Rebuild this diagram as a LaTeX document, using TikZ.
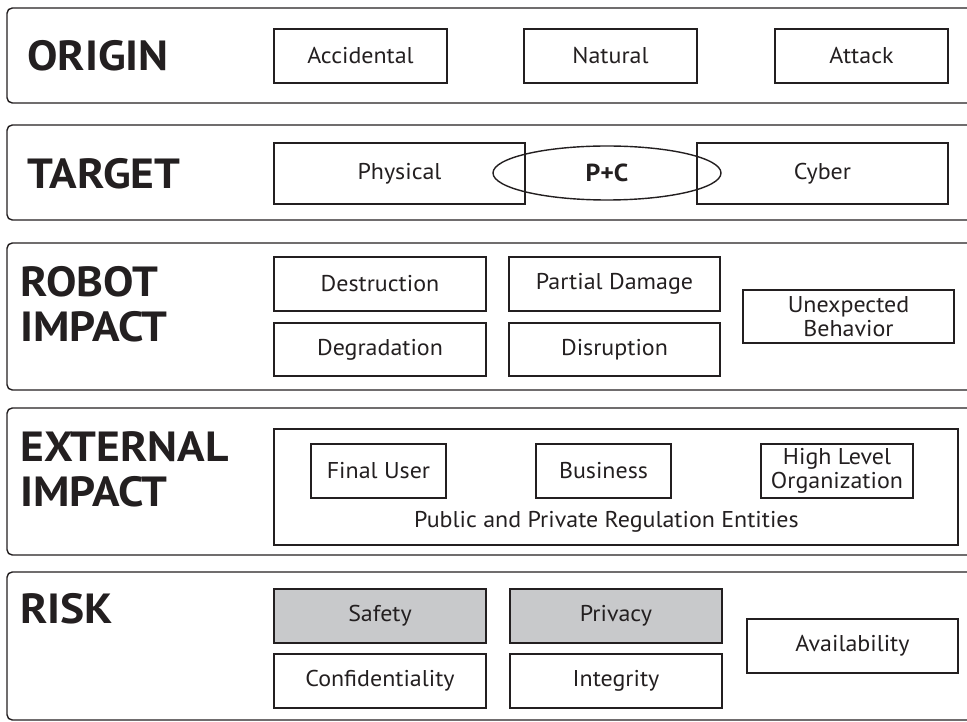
\documentclass[tikz,border=0pt]{standalone}
\usepackage{fontspec}
\setmainfont[FakeStretch=1.05]{PT Sans}
\newfontfamily\layerfont[FakeStretch=1.08]{PT Sans}
\usepackage{tikz}
\usetikzlibrary{shapes.geometric}
\definecolor{riskgray}{RGB}{200,201,203}
\definecolor{inkline}{RGB}{35,31,32}

\begin{document}
\begin{tikzpicture}[x=0.02cm,y=-0.02cm,
    panel/.style={draw=inkline,line width=0.8pt,rounded corners=3pt},
    boxsize/.style 2 args={minimum width=#1*0.02cm,minimum height=#2*0.02cm},
    item/.style={draw=inkline,line width=0.8pt,inner sep=0pt,align=center,
        text=inkline,font=\fontsize{13}{14}\selectfont},
    shaded/.style={item,fill=riskgray},
    layer/.style={anchor=west,align=left,inner sep=0pt,text=inkline,
        font=\layerfont\fontsize{24}{25.5}\selectfont\bfseries},
    ]
\useasboundingbox (0,0) rectangle (967,722);
\clip (0,0) rectangle (967,722);

\draw[panel] (7,8) rectangle (1000,103);
\draw[panel] (7,125) rectangle (1000,220);
\draw[panel] (7,243) rectangle (1000,390);
\draw[panel] (7,408) rectangle (1000,555);
\draw[panel] (7,572) rectangle (1000,720);

\node[layer] (origin) at (27,56) {ORIGIN};
\node[layer] (target) at (27,174) {TARGET};
\node[layer] (robot) at (20,304) {ROBOT\\IMPACT};
\node[layer] (external) at (20,469) {EXTERNAL\\IMPACT};
\node[layer] (risk) at (20,609) {RISK};

\node[item,boxsize={173}{54}] (accidental) at (360.5,56) {Accidental};
\node[item,boxsize={173}{54}] (natural) at (610.5,56) {Natural};
\node[item,boxsize={173}{54}] (attack) at (861.5,56) {Attack};

\node[item,boxsize={251}{61}] (physical) at (399.5,173.5) {Physical};
\node[item,boxsize={251}{61}] (cyber) at (822.5,173.5) {Cyber};
\node[ellipse,draw=inkline,line width=0.8pt,inner sep=0pt,text=inkline,
    boxsize={228}{54},font=\fontsize{14}{15}\selectfont\bfseries] (pc) at (607,173) {P+C};

\node[item,boxsize={212}{54}] (destruction) at (380,284) {Destruction};
\node[item,boxsize={212}{53}] (degradation) at (380,349.5) {Degradation};
\node[item,boxsize={211}{54}] (partial) at (614.5,284) {Partial Damage};
\node[item,boxsize={211}{53}] (disruption) at (614.5,349.5) {Disruption};
\node[item,boxsize={211}{53}] (unexpected) at (848.5,316.5) {Unexpected\\Behavior};

\node[item,boxsize={684}{116}] (regulation) at (616,487) {};
\node[item,boxsize={135}{54}] (user) at (378.5,471) {Final User};
\node[item,boxsize={135}{54}] (business) at (603.5,471) {Business};
\node[item,boxsize={152}{54}] (organization) at (837,471) {High Level\\Organization};
\node[inner sep=0pt,text=inkline,font=\fontsize{13}{14}\selectfont] (entities) at (606.5,522)
    {Public and Private Regulation Entities};

\node[shaded,boxsize={212}{54}] (safety) at (380,616) {Safety};
\node[item,boxsize={212}{54}] (confidentiality) at (380,681) {Confidentiality};
\node[shaded,boxsize={212}{54}] (privacy) at (616,616) {Privacy};
\node[item,boxsize={212}{54}] (integrity) at (616,681) {Integrity};
\node[item,boxsize={211}{54}] (availability) at (852.5,646) {Availability};
\end{tikzpicture}
\end{document}
